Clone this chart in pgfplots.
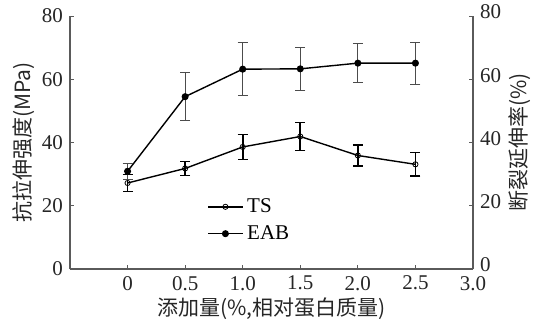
\documentclass[border=0pt]{standalone}
\usepackage{pgfplots}
\pgfplotsset{compat=1.18}
\usepackage{fontspec}
\setmainfont{Liberation Serif}
\newfontfamily\cjk{Noto Sans CJK SC}
\definecolor{axgray}{RGB}{90,90,90}
\begin{document}
\begin{tikzpicture}
\pgfplotsset{
  common/.style={
    scale only axis, width=201.5pt, height=126.5pt,
    xmin=-0.5, xmax=3.0, ymin=0, ymax=80,
    tick align=inside, major tick length=2pt,
    tick style={axgray, line width=0.5pt},
    axis line style={axgray, line width=0.6pt},
    ticklabel style={font=\fontsize{10.5}{12}\selectfont, text=black!85},
    /pgf/number format/assume math mode=true,
    ytick={0,20,40,60,80},
  }
}
\begin{axis}[common,
  axis x line*=bottom, axis y line*=left,
  xtick={0,0.5,1.0,1.5,2.0,2.5,3.0},
  xticklabels={0,0.5,1.0,1.5,2.0,2.5,3.0},
  xlabel={\cjk 添加量(\%,相对蛋白质量)},
  ylabel={\cjk 抗拉伸强度(MPa)},
  label style={font=\fontsize{10.5}{12}\selectfont, text=black!85},
  xlabel style={yshift=3pt},
  ylabel style={yshift=-3pt},
  legend style={draw=none, fill=none, at={(axis cs:0.64,25)}, anchor=north west,
    font=\fontsize{10.5}{12}\selectfont, row sep=1pt},
  legend cell align=left,
]
\addplot[black, line width=0.7pt, mark=o, mark size=1.3pt, mark options={fill=white, line width=0.4pt},
  error bars/.cd, y dir=both, y explicit, error mark options={rotate=90, mark size=2.5pt, line width=0.6pt}, error bar style={line width=0.9pt}]
  coordinates {
  (0,27.2) +- (0,2.7)
  (0.5,31.8) +- (0,2.3)
  (1.0,38.6) +- (0,4.0)
  (1.5,41.9) +- (0,4.4)
  (2.0,35.9) +- (0,3.3)
  (2.5,33.1) +- (0,3.7)
  };
\addlegendentry{TS}
\addplot[black, line width=0.7pt, mark=*, mark size=1.4pt,
  error bars/.cd, y dir=both, y explicit, error mark options={rotate=90, mark size=2.5pt, line width=0.5pt}, error bar style={line width=0.5pt, black!70}]
  coordinates {
  (0,30.9) +- (0,2.5)
  (0.5,54.5) +- (0,7.5)
  (1.0,63.2) +- (0,8.3)
  (1.5,63.3) +- (0,6.7)
  (2.0,65.1) +- (0,6.1)
  (2.5,65.1) +- (0,6.6)
  };
\addlegendentry{EAB}
\end{axis}
\begin{axis}[common,
  axis x line=none, axis y line*=right,
  yticklabel style={yshift=2pt, xshift=0pt},
  ylabel={\cjk 断裂延伸率(\%)},
  label style={font=\fontsize{10.5}{12}\selectfont, text=black!85},
  ylabel style={yshift=3pt},
]
\end{axis}
\pgfresetboundingbox
\path[use as bounding box] (-35pt,-30pt) rectangle (234pt,134.5pt);
\end{tikzpicture}
\end{document}
